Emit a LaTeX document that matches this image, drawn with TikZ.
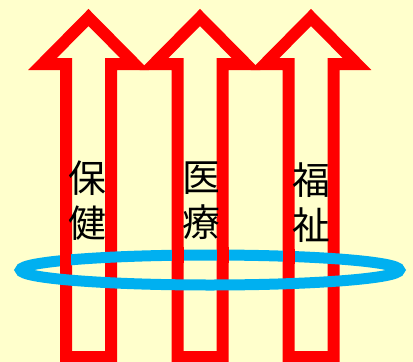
\documentclass[tikz,border=0pt]{standalone}
\usepackage{fontspec}
\newfontfamily\cjk{Noto Sans CJK JP}
\definecolor{bgyellow}{HTML}{FFFFCC}
\definecolor{arrred}{HTML}{FF0000}
\definecolor{ringblue}{HTML}{00B0F0}
\begin{document}
\begin{tikzpicture}[x=1bp,y=-1bp,
  uparrow/.style={draw=arrred, line width=12bp, miter limit=20, line join=miter},
  ring/.style={draw=ringblue, line width=11bp},
  redpatch/.style={fill=arrred},
  label/.style={font=\cjk\fontsize{38}{45}\selectfont, align=center, inner sep=0pt}]
\fill[bgyellow] (0,0) rectangle (413,362);
\useasboundingbox (0,0) rectangle (413,362);
% arrows
\foreach \cx in {88.5,200,311}{
  \draw[uparrow] (\cx-22.5,357) -- (\cx-22.5,64) -- (\cx-46,64) -- (\cx,17.5)
     -- (\cx+46,64) -- (\cx+22.5,64) -- (\cx+22.5,357) -- cycle;
}
% ring
\draw[ring] (210,270) ellipse [x radius=189.5, y radius=15];
% red patches where arrows pass over the back of the ring
\fill[redpatch] (59.5,254) rectangle (71,269);
\fill[redpatch] (171.5,247) rectangle (183.5,263);
\fill[redpatch] (216.5,247) rectangle (228.5,263);
\fill[redpatch] (282.5,249) rectangle (294.5,264);
% labels
\node[label] (hoken) at (87,201) {保\\健};
\node[label] (iryo) at (201,201) {医\\療};
\node[label] (fukushi) at (311,203) {福\\祉};
\end{tikzpicture}
\end{document}
